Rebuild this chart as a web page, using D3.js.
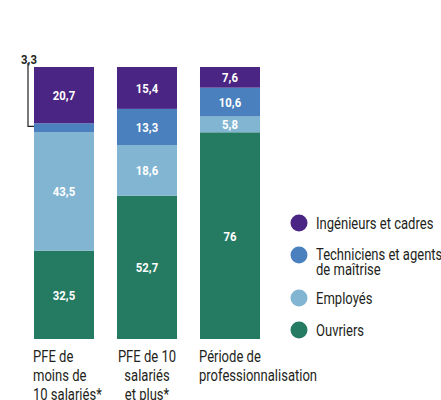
<!DOCTYPE html>
<html>
<head>
<meta charset="utf-8">
<script src="https://cdn.jsdelivr.net/npm/d3@7"></script>
<style>
  body { margin: 0; background: #fff; }
  svg text { font-family: "Roboto", "Liberation Sans", sans-serif; }
</style>
</head>
<body>
<div id="chart"></div>
<script>
// categories (bottom labels, split per line)
var categories = ["PFE de moins de 10 salariés*", "PFE de 10 salariés et plus*", "Période de professionnalisation"];
var catLines = [["PFE de", "moins de", "10 salariés*"], ["PFE de 10", "salariés", "et plus*"], ["Période de", "professionnalisation"]];

// series, stacked from bottom to top
var seriesNames = ["Ouvriers", "Employés", "Techniciens et agents de maîtrise", "Ingénieurs et cadres"];
var ouvriers    = [32.5, 52.7, 76];
var employes    = [43.5, 18.6, 5.8];
var techniciens = [3.3, 13.3, 10.6];
var ingenieurs  = [20.7, 15.4, 7.6];

var colors = ["#257b62", "#82b5d2", "#4a80be", "#4b2583"];

// legend is top to bottom
var legendNames = [["Ingénieurs et cadres"], ["Techniciens et agents", "de maîtrise"], ["Employés"], ["Ouvriers"]];
var legendColors = ["#4b2583", "#4a80be", "#82b5d2", "#257b62"];

var wid = 441, heig = 400;
var narrow = 0.79, narrowBold = 0.84;   // no condensed font installed, squeeze instead

var svg = d3.select("#chart").append("svg")
	.attr("width", wid)
	.attr("height", heig);

function squeezed(parent, px, py, sx) {
	return parent.append("g")
		.attr("transform", "translate(" + px + "," + py + ") scale(" + sx + ",1)")
		.append("text");
}

var rows = categories.map(function(c, i) {
	return { cat: c, Ouvriers: ouvriers[i], "Employés": employes[i],
		"Techniciens et agents de maîtrise": techniciens[i], "Ingénieurs et cadres": ingenieurs[i] };
});

var stack = d3.stack().keys(seriesNames)(rows);

var x = d3.scaleBand().domain(categories).range([34, 260]).paddingInner(0.277).paddingOuter(0);
var y = d3.scaleLinear().domain([0, 100]).range([339, 67]);

var layer = svg.selectAll("g.layer")
	.data(stack)
	.enter().append("g")
	.attr("class", "layer")
	.attr("fill", function(d, i) { return colors[i]; });

layer.selectAll("rect")
	.data(function(d) { return d; })
	.enter().append("rect")
	.attr("x", function(d) { return x(d.data.cat); })
	.attr("width", x.bandwidth())
	.attr("y", function(d) { return y(d[1]); })
	.attr("height", function(d) { return y(d[0]) - y(d[1]); });

// value labels inside segments (skip the thin one, labelled outside)
stack.forEach(function(s) {
	s.forEach(function(d) {
		if ((d[1] - d[0]) < 5) return;
		squeezed(svg, x(d.data.cat) + x.bandwidth() / 2, (y(d[0]) + y(d[1])) / 2, narrowBold)
			.attr("dy", "0.36em")
			.attr("text-anchor", "middle")
			.attr("fill", "#fff")
			.style("font-size", "13.5px")
			.style("font-weight", "bold")
			.text(String(+(d[1] - d[0]).toFixed(1)).replace(".", ","));
	});
});

// callout for the small segment
var small = stack[2][0];
var bx = x(small.data.cat);
var yMark = y(small[1]) + 3;
svg.append("path")
	.attr("d", "M" + (bx - 6) + "," + 63 + "V" + yMark + "H" + bx)
	.attr("fill", "none")
	.attr("stroke", "#231f20")
	.attr("stroke-width", 1.2);
squeezed(svg, bx - 5, 64, narrowBold)
	.attr("text-anchor", "middle")
	.attr("fill", "#231f20")
	.style("font-size", "13.5px")
	.style("font-weight", "bold")
	.text(String(techniciens[0]).replace(".", ","));

// category labels
catLines.forEach(function(lines, i) {
	var left = x(categories[i]);
	var g = svg.append("g");
	var t = squeezed(g, 0, 0, narrow)
		.attr("fill", "#231f20")
		.style("font-size", "16.5px");
	lines.forEach(function(l, k) {
		t.append("tspan").attr("x", 0).attr("y", 362 + k * 19).text(l);
	});
	var w = t.node().getBBox().width * narrow;
	if (w > x.bandwidth()) {
		t.attr("text-anchor", "start");
		g.attr("transform", "translate(" + (left - 1) + ",0)");
	} else {
		t.attr("text-anchor", "middle");
		g.attr("transform", "translate(" + (left + x.bandwidth() / 2) + ",0)");
	}
});

// legend
var legY = [223, 255, 298, 330];
var legend = svg.selectAll("g.legend")
	.data(legendNames)
	.enter().append("g")
	.attr("class", "legend")
	.attr("transform", function(d, i) { return "translate(299," + legY[i] + ")"; });

legend.append("circle")
	.attr("r", 8.5)
	.attr("fill", function(d, i) { return legendColors[i]; });

legend.each(function(d) {
	var t = squeezed(d3.select(this), 17, 0, narrow)
		.attr("fill", "#231f20")
		.style("font-size", "16.5px");
	d.forEach(function(l, k) {
		t.append("tspan").attr("x", 0).attr("y", (d.length > 1 ? -1 : 0) + k * 15).attr("dy", "0.35em").text(l);
	});
});
</script>
</body>
</html>
